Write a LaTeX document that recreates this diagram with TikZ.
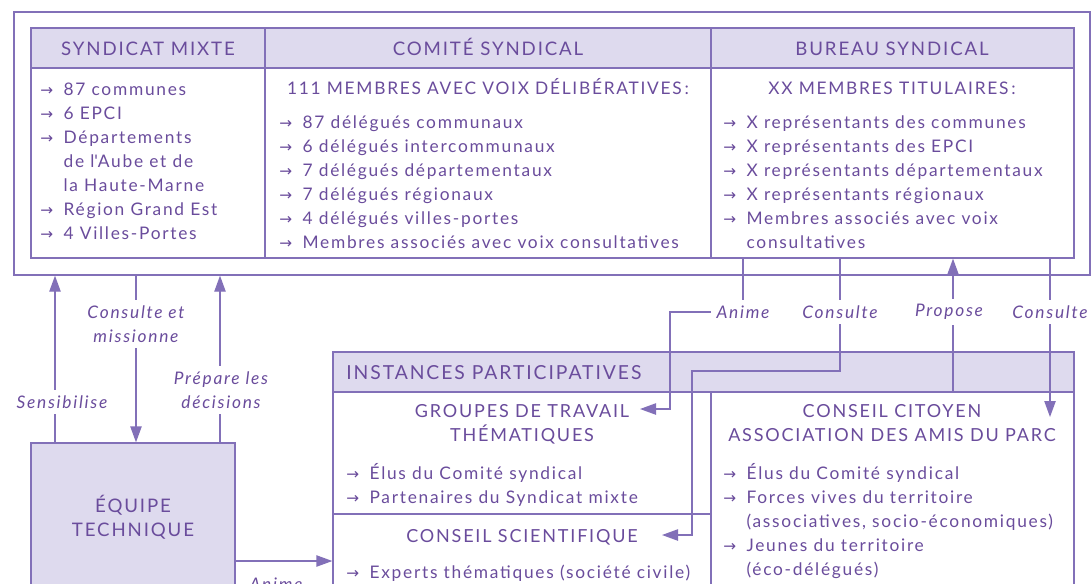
\documentclass[tikz,border=0pt]{standalone}
\usepackage{fontspec}
\setmainfont[LetterSpace=10]{Lato}
\newfontfamily\arrowfont{DejaVu Sans}
\usetikzlibrary{arrows.meta,fit}

\definecolor{parcviolet}{HTML}{6A4C9C}
\definecolor{parcline}{HTML}{8270B8}
\definecolor{parcfill}{HTML}{DEDAEE}

\newcommand\fl{\makebox[17.5pt][l]{\arrowfont\fontsize{11.5}{11.5}\selectfont →}}
\newcommand\ind{\hspace*{17.5pt}}

\tikzset{
  boite/.style={draw=parcline, line width=1pt, rectangle, inner sep=0pt},
  entete/.style={boite, fill=parcfill},
  titre/.style={text=parcviolet, font=\fontsize{14}{18}\selectfont, align=center,
    anchor=north, inner sep=0pt, execute at begin node=\strut},
  soustitre/.style={titre, font=\fontsize{13.5}{18}\selectfont},
  liste/.style={text=parcviolet, font=\fontsize{13}{18}\selectfont, align=left,
    anchor=north west, inner sep=0pt, execute at begin node=\strut},
  lien/.style={draw=parcline, line width=1pt},
  fleche/.style={lien, -{Triangle[length=12pt,width=8.5pt]}},
  etiq/.style={text=parcviolet, font=\itshape\fontsize{13}{18}\selectfont, align=center, inner sep=4pt}
}

\begin{document}
\begin{tikzpicture}[x=0.75pt,y=-0.75pt]
    \fill[white] (0,0) rectangle (1092,583);
    \clip (0,0) rectangle (1092,583);

    % cadre du haut
    \node[boite, fit={(14,12) (1090,275)}] (cadre) {};
    \node[entete, fit={(31,28) (265,68)}] (hsyndicat) {};
    \node[entete, fit={(265,28) (711,68)}] (hcomite) {};
    \node[entete, fit={(711,28) (1074,68)}] (hbureau) {};
    \node[boite, fit={(31,68) (265,258)}] (syndicat) {};
    \node[boite, fit={(265,68) (711,258)}] (comite) {};
    \node[boite, fit={(711,68) (1074,258)}] (bureau) {};

    \node[titre] (tsyndicat) at (148,38.2) {SYNDICAT MIXTE};
    \node[titre] (tcomite) at (488,38.2) {COMITÉ SYNDICAL};
    \node[titre] (tbureau) at (892,38.2) {BUREAU SYNDICAL};

    \node[liste] (lsyndicat) at (40,82.4) {\fl 87 communes\\ \fl 6 EPCI\\ \fl Départements\\
        \ind de l\textquotesingle Aube et de\\ \ind la Haute-Marne\\ \fl Région Grand Est\\ \fl 4 Villes-Portes};
    \node[titre, font=\fontsize{13}{18}\selectfont] (ncomite) at (488,77.4) {111 MEMBRES AVEC VOIX DÉLIBÉRATIVES\,:};
    \node[liste] (lcomite) at (279,115.4) {\fl 87 délégués communaux\\ \fl 6 délégués intercommunaux\\
        \fl 7 délégués départementaux\\ \fl 7 délégués régionaux\\ \fl 4 délégués villes-portes\\
        \fl Membres associés avec voix consultatives};
    \node[titre, font=\fontsize{13}{18}\selectfont] (nbureau) at (892,77.4) {XX MEMBRES TITULAIRES\,:};
    \node[liste] (lbureau) at (723,115.4) {\fl X représentants des communes\\ \fl X représentants des EPCI\\
        \fl X représentants départementaux\\ \fl X représentants régionaux\\
        \fl Membres associés avec voix\\ \ind consultatives};

    % equipe technique
    \node[entete, fit={(31,443) (235,640)}] (equipe) {};
    \node[titre] (tequipe) at (133,495.2) {ÉQUIPE\\TECHNIQUE};

    % instances participatives
    \node[entete, fit={(333,352) (1074,392)}] (hinstances) {};
    \node[titre, anchor=north west, font=\fontsize{14.5}{18}\selectfont] (tinstances) at (346,362.2) {INSTANCES PARTICIPATIVES};
    \node[boite, fit={(333,392) (711,514)}] (groupes) {};
    \node[boite, fit={(333,514) (711,640)}] (scient) {};
    \node[boite, fit={(711,392) (1074,640)}] (citoyen) {};

    \node[soustitre] (tgroupes) at (522,404.2) {GROUPES DE TRAVAIL\\THÉMATIQUES};
    \node[liste] (lgroupes) at (346,463.4) {\fl Élus du Comité syndical\\ \fl Partenaires du Syndicat mixte};
    \node[soustitre] (tscient) at (522,525.2) {CONSEIL SCIENTIFIQUE};
    \node[liste] (lscient) at (346,561.4) {\fl Experts thématiques (société civile)};
    \node[soustitre] (tcitoyen) at (892,404.2) {CONSEIL CITOYEN\\ASSOCIATION DES AMIS DU PARC};
    \node[liste] (lcitoyen) at (723,463.4) {\fl Élus du Comité syndical\\ \fl Forces vives du territoire\\
        \ind (associatives, socio-économiques)\\ \fl Jeunes du territoire\\ \ind (éco-délégués)};

    % etiquettes des liens
    \node[etiq] (lconsulte) at (136,324) {Consulte et\\missionne};
    \node[etiq] (lsensib) at (62,402) {Sensibilise};
    \node[etiq] (lprepare) at (221,390) {Prépare les\\décisions};
    \node[etiq] (lanimeb) at (276,584) {Anime};
    \node[etiq] (lanime) at (743,312) {Anime};
    \node[etiq] (lcons1) at (840,312) {Consulte};
    \node[etiq] (lprop) at (949,312) {Propose};
    \node[etiq] (lcons2) at (1050,312) {Consulte};

    \coordinate (xsens) at (55,0);
    \coordinate (xprep) at (220,0);
    \coordinate (xprop) at (953,0);
    \coordinate (aeq) at (235,561);
    \coordinate (ga) at (670,409);
    \coordinate (tipg) at (640,409);
    \coordinate (cs) at (692,371);
    \coordinate (tips) at (662,535);
    \coordinate (tipc) at (1049,417);

    % liens
    \draw[lien] (equipe.north -| xsens) -- (lsensib.south -| xsens);
    \draw[fleche] (lsensib.north -| xsens) -- (cadre.south -| xsens);
    \draw[lien] (cadre.south -| lconsulte.north) -- (lconsulte.north);
    \draw[fleche] (lconsulte.south) -- (lconsulte.south |- equipe.north);
    \draw[lien] (equipe.north -| xprep) -- (lprepare.south -| xprep);
    \draw[fleche] (lprepare.north -| xprep) -- (cadre.south -| xprep);
    \draw[fleche] (aeq) -- (aeq -| scient.west);

    \draw[lien] (lanime.north |- bureau.south) -- (lanime.north);
    \draw[fleche] (lanime.west) -| (ga) -- (tipg);
    \draw[lien] (lcons1.north |- bureau.south) -- (lcons1.north);
    \draw[fleche] (lcons1.south) |- (cs) |- (tips);
    \draw[lien] (citoyen.north -| xprop) -- (lprop.south -| xprop);
    \draw[fleche] (lprop.north -| xprop) -- (bureau.south -| xprop);
    \draw[lien] (lcons2.north |- bureau.south) -- (lcons2.north);
    \draw[fleche] (lcons2.south) -- (lcons2.south |- tipc);
\end{tikzpicture}
\end{document}
